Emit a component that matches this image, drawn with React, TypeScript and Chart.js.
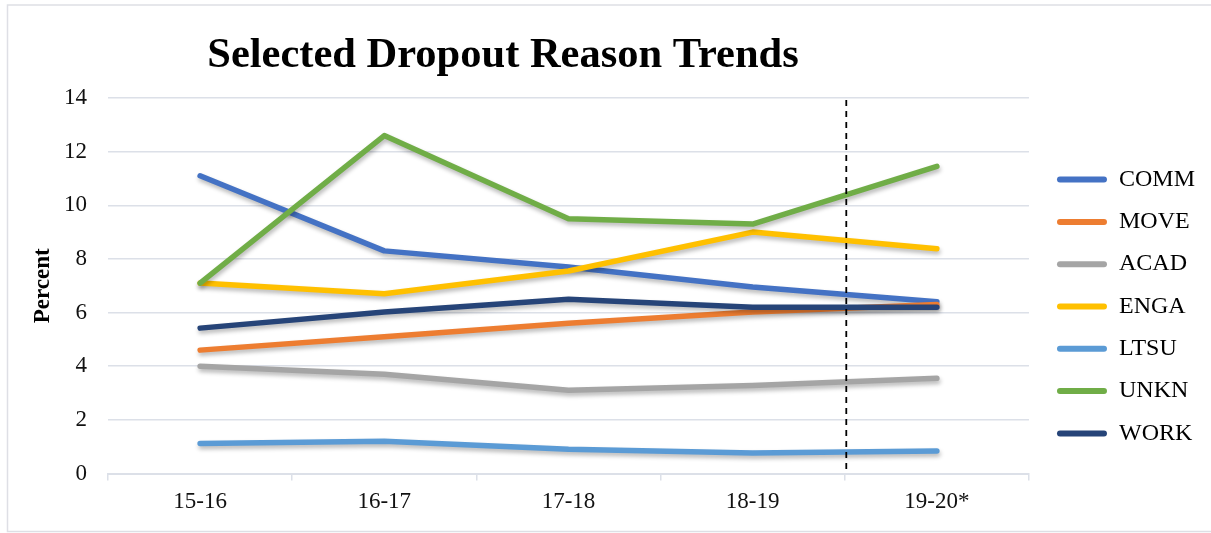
import React, { useEffect, useRef } from "react";
import { Chart, registerables } from "chart.js";

Chart.register(...registerables);

const categories = ["15-16", "16-17", "17-18", "18-19", "19-20*"];
const seriesNames = ["COMM", "MOVE", "ACAD", "ENGA", "LTSU", "UNKN", "WORK"];
const comm = [11.1, 8.3, 7.7, 6.95, 6.4];
const move = [4.6, 5.1, 5.6, 6.02, 6.3];
const acad = [4.0, 3.7, 3.1, 3.28, 3.55];
const enga = [7.1, 6.7, 7.55, 9.0, 8.38];
const ltsu = [1.12, 1.2, 0.9, 0.76, 0.84];
const unkn = [7.1, 12.6, 9.5, 9.3, 11.45];
const work = [5.42, 6.02, 6.5, 6.2, 6.2];
const seriesValues = [comm, move, acad, enga, ltsu, unkn, work];
const seriesColors = ["#4472C4", "#ED7D31", "#A5A5A5", "#FFC000", "#5B9BD5", "#70AD47", "#264478"];
const yTicks = [0, 2, 4, 6, 8, 10, 12, 14];
const dividerAfter = "18-19";
const titleText = "Selected Dropout Reason Trends";
const yTitle = "Percent";

const FONT = '"Liberation Serif", "Times New Roman", serif';

export default function App() {
  const ref = useRef<HTMLCanvasElement | null>(null);

  useEffect(() => {
    document.body.style.margin = "0";
    const canvas = ref.current;
    if (!canvas) return;

    const framePlugin = {
      id: "frame",
      beforeDraw(chart: any) {
        const ctx = chart.ctx;
        ctx.save();
        ctx.fillStyle = "#ffffff";
        ctx.fillRect(0, 0, chart.width, chart.height);
        ctx.strokeStyle = "#DEDFE5";
        ctx.lineWidth = 1.5;
        ctx.strokeRect(7.5, 5, chart.width + 10, 526.5);
        ctx.restore();
      },
      afterDraw(chart: any) {
        const ctx = chart.ctx;
        ctx.save();
        ctx.fillStyle = "#000";
        ctx.font = `bold 42.5px ${FONT}`;
        ctx.textAlign = "center";
        ctx.textBaseline = "alphabetic";
        ctx.fillText(titleText, 503, 67);
        ctx.restore();
      },
    };

    const shadowPlugin = {
      id: "lineShadow",
      beforeDatasetDraw(chart: any) {
        const ctx = chart.ctx;
        ctx.save();
        ctx.shadowColor = "rgba(0,0,0,0.28)";
        ctx.shadowBlur = 4;
        ctx.shadowOffsetX = 1;
        ctx.shadowOffsetY = 3;
      },
      afterDatasetDraw(chart: any) {
        chart.ctx.restore();
      },
    };

    const dividerPlugin = {
      id: "divider",
      afterDatasetsDraw(chart: any) {
        const x = chart.scales.x;
        const i = categories.indexOf(dividerAfter);
        const px = (x.getPixelForValue(i) + x.getPixelForValue(i + 1)) / 2 + 1.5;
        const { top, bottom } = chart.chartArea;
        const ctx = chart.ctx;
        ctx.save();
        ctx.strokeStyle = "#000";
        ctx.lineWidth = 1.8;
        ctx.setLineDash([6, 5]);
        ctx.beginPath();
        ctx.moveTo(px, top + 2);
        ctx.lineTo(px, bottom);
        ctx.stroke();
        ctx.restore();
      },
    };

    const chart = new Chart(canvas, {
      type: "line",
      data: {
        labels: categories,
        datasets: seriesNames.map((name, i) => ({
          label: name,
          data: seriesValues[i],
          borderColor: seriesColors[i],
          backgroundColor: seriesColors[i],
          borderWidth: 5.5,
          borderCapStyle: "round",
          borderJoinStyle: "round",
          pointRadius: 0,
          pointHoverRadius: 0,
          tension: 0,
          fill: false,
          order: seriesNames.length - i,
        })),
      },
      options: {
        responsive: false,
        animation: false,
        devicePixelRatio: 1,
        layout: { padding: { top: 98, left: 29.7, right: 6, bottom: 18 } },
        plugins: {
          legend: {
            position: "right",
            align: "center",
            labels: {
              font: { family: FONT, size: 24 },
              color: "#000",
              boxWidth: 50,
              boxHeight: 6,
              useBorderRadius: true,
              borderRadius: 3,
              padding: 18.3,
              sort: (a: any, b: any) => a.datasetIndex - b.datasetIndex,
              generateLabels: (chart: any) => {
                const items = Chart.defaults.plugins.legend.labels.generateLabels(chart);
                return items.map((it: any) => ({ ...it, lineWidth: 0, fillStyle: it.strokeStyle }));
              },
            },
          },
          tooltip: { enabled: false },
        },
        scales: {
          x: {
            type: "category",
            offset: true,
            grid: {
              offset: true,
              drawOnChartArea: false,
              drawTicks: true,
              tickLength: 7,
              color: "#DCE0E8",
              lineWidth: 1.5,
            },
            border: { display: true, color: "#DCE0E8", width: 2 },
            ticks: {
              font: { family: FONT, size: 23 },
              color: "#111",
              padding: 7.2,
              maxRotation: 0,
              autoSkip: false,
            },
            afterFit: (s: any) => {
              s.height = 41.5;
            },
          },
          y: {
            min: 0,
            max: 14,
            afterBuildTicks: (s: any) => {
              s.ticks = yTicks.map((v) => ({ value: v }));
            },
            grid: { drawTicks: false, color: "#DCE0E8", lineWidth: 1.5 },
            border: { display: false },
            ticks: {
              font: { family: FONT, size: 23 },
              color: "#111",
              padding: 21,
            },
            title: {
              display: true,
              text: yTitle,
              font: { family: FONT, size: 23, weight: "bold" },
              color: "#000",
              padding: { top: 0, bottom: 7.7 },
            },
            afterFit: (s: any) => {
              s.width = 78.3;
            },
          },
          y2: {
            position: "right",
            display: true,
            grid: { display: false, drawTicks: false },
            border: { display: false },
            ticks: { display: false },
            afterFit: (s: any) => {
              s.width = 9.7;
            },
          },
        },
      },
      plugins: [framePlugin, shadowPlugin, dividerPlugin],
    } as any);

    return () => chart.destroy();
  }, []);

  return (
    <div style={{ width: 1211, height: 533 }}>
      <canvas ref={ref} width={1211} height={533} style={{ display: "block" }} />
    </div>
  );
}
